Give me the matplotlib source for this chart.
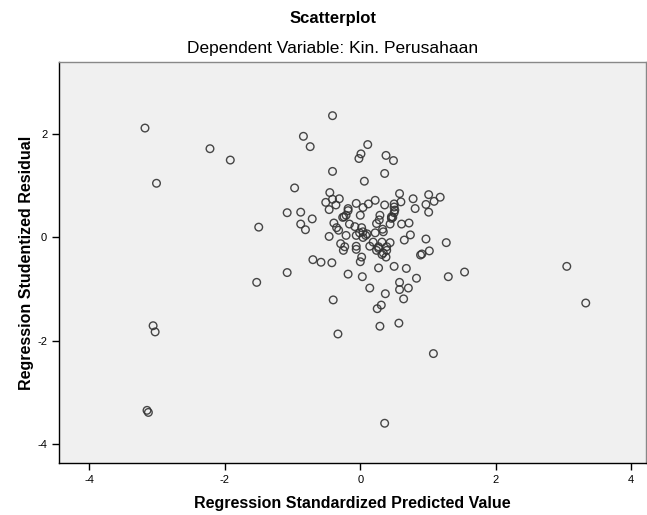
import matplotlib.pyplot as plt

plt.rcParams['font.family'] = ['Liberation Sans', 'DejaVu Sans']
plt.rcParams['axes.unicode_minus'] = False

# Regression Standardized Predicted Value (x) and Studentized Residual (y)
pred = [
    -3.18, -3.01, -2.22, -1.92, -1.50, -0.97, -0.84, -0.74, -0.41, -0.41,
    -1.08, -0.88, -0.88, -0.81, -0.71, -3.06, -3.03, -3.15, -3.13, -1.53,
    -1.08, -0.70, -0.58, -0.42, -0.40, -0.33, -0.18, 0.03, 0.27, 0.50,
    0.68, 0.83, 1.30, 1.54, 3.05, 3.33, 0.14, 0.37, 0.31, 0.25,
    0.29, 0.57, 0.58, 0.58, 0.71, 0.64, 1.08, 0.36, 0.11, 0.01,
    -0.02, 0.38, 0.49, 0.36, 0.06, -0.45, -0.51, -0.41, -0.31, -0.36,
    -0.06, 0.12, 0.22, 0.36, 0.50, 0.58, -0.18, 0.60, 0.78, 1.01,
    1.09, 1.18, 0.97, 0.81, 1.01, 0.50, 0.50, 0.48, 0.61, 0.72,
    0.74, 0.65, 0.97, 1.27, 1.02, 0.44, 0.91, 0.89, -0.46, 0.04,
    -0.21, 0.00, 0.29, 0.46, -0.26, -0.39, -0.16, 0.24, 0.28, 0.44,
    -0.35, 0.02, -0.46, -0.21, -0.01, 0.04, -0.06, 0.08, 0.22, 0.34,
    0.04, 0.19, 0.32, -0.29, -0.23, -0.06, 0.14, 0.27, 0.39, -0.25,
    -0.06, 0.27, 0.34, 0.38, 0.02, 0.00, -0.32, -0.24, -0.18, 0.33,
    0.46, 0.24, 0.39, 0.32, -0.08, 0.51, 0.10,
]
resid = [
    2.12, 1.05, 1.72, 1.50, 0.20, 0.96, 1.96, 1.76, 2.36, 1.28,
    0.48, 0.49, 0.26, 0.15, 0.36, -1.71, -1.83, -3.35, -3.39, -0.87,
    -0.68, -0.43, -0.48, -0.49, -1.21, -1.87, -0.71, -0.76, -0.59, -0.56,
    -0.60, -0.79, -0.76, -0.67, -0.56, -1.27, -0.98, -1.09, -1.31, -1.38,
    -1.72, -1.66, -0.87, -1.01, -0.98, -1.19, -2.25, -3.60, 1.80, 1.62,
    1.53, 1.59, 1.49, 1.24, 1.09, 0.87, 0.68, 0.74, 0.75, 0.63,
    0.66, 0.65, 0.72, 0.63, 0.65, 0.85, 0.56, 0.69, 0.75, 0.83,
    0.70, 0.78, 0.64, 0.56, 0.49, 0.59, 0.48, 0.39, 0.26, 0.28,
    0.05, -0.05, -0.03, -0.10, -0.26, -0.10, -0.32, -0.34, 0.54, 0.58,
    0.43, 0.43, 0.43, 0.40, 0.39, 0.28, 0.26, 0.27, 0.34, 0.26,
    0.19, 0.19, 0.02, 0.04, 0.09, 0.11, 0.04, 0.04, 0.09, 0.11,
    0.00, -0.09, -0.09, -0.12, -0.18, -0.17, -0.17, -0.18, -0.18, -0.25,
    -0.23, -0.21, -0.30, -0.38, -0.38, -0.47, 0.14, 0.40, 0.52, 0.16,
    0.37, -0.25, -0.25, -0.33, 0.21, 0.53, 0.07,
]
xticks = [-4, -2, 0, 2, 4]
yticks = [-4, -2, 0, 2]

fig = plt.figure(figsize=(6.47, 5.15), dpi=100)
ax = fig.add_axes([59 / 647, 1 - 463 / 515, 587 / 647, 401 / 515])
ax.set_facecolor('#f0f0f0')

ax.scatter(pred, resid, s=30, facecolors='none', edgecolors='#333333',
           linewidths=1.0, alpha=0.9)

ax.set_xticks(xticks)
ax.set_yticks(yticks)
ax.set_xlim(-4.45, 4.22)
ax.set_ylim(-4.37, 3.40)
ax.tick_params(direction='out', length=5, width=1, labelsize=8, colors='black')

for side in ['left', 'bottom']:
    ax.spines[side].set_color('black')
    ax.spines[side].set_linewidth(1)
for side in ['top', 'right']:
    ax.spines[side].set_color('#888888')
    ax.spines[side].set_linewidth(1)

ax.set_xlabel('Regression Standardized Predicted Value', fontsize=11.5,
              fontweight='bold', labelpad=8)
ax.set_ylabel('Regression Studentized Residual', fontsize=11.5,
              fontweight='bold', labelpad=2)

fig.text(333 / 647, 1 - 18 / 515, 'Scatterplot', ha='center', va='center',
         fontsize=12, fontweight='bold')
fig.text(333 / 647, 1 - 49 / 515, 'Dependent Variable: Kin. Perusahaan',
         ha='center', va='center', fontsize=12.5)

fig.savefig('out.png', dpi=100)
